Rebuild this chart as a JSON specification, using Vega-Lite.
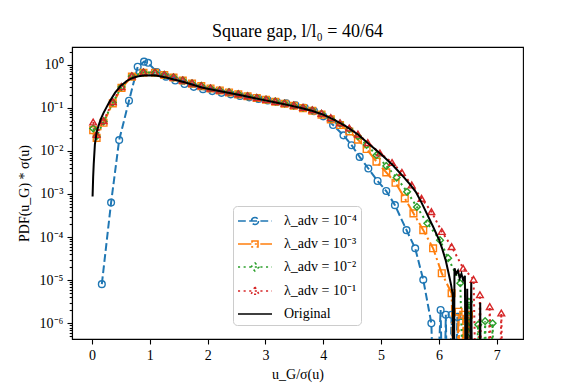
{
  "$schema": "https://vega.github.io/schema/vega-lite/v6.json",
  "width": 451,
  "height": 292,
  "autosize": "none",
  "padding": {"left": 72, "top": 47, "right": 58, "bottom": 49},
  "background": "white",
  "title": {"text": "Square gap, l/l₀ = 40/64", "font": "Liberation Serif", "fontSize": 18, "fontWeight": "normal", "color": "black", "anchor": "middle", "offset": 6},
  "config": {
    "view": {"stroke": "black", "strokeWidth": 1.1},
    "axis": {"labelFont": "Liberation Serif", "labelFontSize": 14, "labelColor": "black", "tickColor": "black", "tickWidth": 1.1, "tickSize": 5, "domainColor": "black", "domainWidth": 1.1, "titleFont": "Liberation Serif", "titleFontSize": 14, "titleFontWeight": "normal", "titleColor": "black", "grid": false}
  },
  "data": {"values": [
    {"s": "λ_adv = 10⁻⁴", "x": 0.17, "y": 8.1e-6},
    {"s": "λ_adv = 10⁻⁴", "x": 0.33, "y": 6.3e-4},
    {"s": "λ_adv = 10⁻⁴", "x": 0.47, "y": 0.0178},
    {"s": "λ_adv = 10⁻⁴", "x": 0.64, "y": 0.145},
    {"s": "λ_adv = 10⁻⁴", "x": 0.79, "y": 0.891},
    {"s": "λ_adv = 10⁻⁴", "x": 0.90, "y": 1.17},
    {"s": "λ_adv = 10⁻⁴", "x": 0.97, "y": 1.10},
    {"s": "λ_adv = 10⁻⁴", "x": 1.12, "y": 0.676},
    {"s": "λ_adv = 10⁻⁴", "x": 1.28, "y": 0.525},
    {"s": "λ_adv = 10⁻⁴", "x": 1.44, "y": 0.427},
    {"s": "λ_adv = 10⁻⁴", "x": 1.60, "y": 0.355},
    {"s": "λ_adv = 10⁻⁴", "x": 1.76, "y": 0.305},
    {"s": "λ_adv = 10⁻⁴", "x": 1.92, "y": 0.269},
    {"s": "λ_adv = 10⁻⁴", "x": 2.08, "y": 0.243},
    {"s": "λ_adv = 10⁻⁴", "x": 2.24, "y": 0.221},
    {"s": "λ_adv = 10⁻⁴", "x": 2.40, "y": 0.204},
    {"s": "λ_adv = 10⁻⁴", "x": 2.56, "y": 0.188},
    {"s": "λ_adv = 10⁻⁴", "x": 2.72, "y": 0.174},
    {"s": "λ_adv = 10⁻⁴", "x": 2.88, "y": 0.160},
    {"s": "λ_adv = 10⁻⁴", "x": 3.04, "y": 0.148},
    {"s": "λ_adv = 10⁻⁴", "x": 3.20, "y": 0.136},
    {"s": "λ_adv = 10⁻⁴", "x": 3.36, "y": 0.126},
    {"s": "λ_adv = 10⁻⁴", "x": 3.52, "y": 0.114},
    {"s": "λ_adv = 10⁻⁴", "x": 3.68, "y": 0.100},
    {"s": "λ_adv = 10⁻⁴", "x": 3.84, "y": 0.0832},
    {"s": "λ_adv = 10⁻⁴", "x": 4.00, "y": 0.0631},
    {"s": "λ_adv = 10⁻⁴", "x": 4.17, "y": 0.0398},
    {"s": "λ_adv = 10⁻⁴", "x": 4.35, "y": 0.0229},
    {"s": "λ_adv = 10⁻⁴", "x": 4.49, "y": 0.0135},
    {"s": "λ_adv = 10⁻⁴", "x": 4.63, "y": 0.00724},
    {"s": "λ_adv = 10⁻⁴", "x": 4.78, "y": 0.00389},
    {"s": "λ_adv = 10⁻⁴", "x": 4.94, "y": 0.0020},
    {"s": "λ_adv = 10⁻⁴", "x": 5.09, "y": 0.00117},
    {"s": "λ_adv = 10⁻⁴", "x": 5.24, "y": 5.5e-4},
    {"s": "λ_adv = 10⁻⁴", "x": 5.44, "y": 1.45e-4},
    {"s": "λ_adv = 10⁻⁴", "x": 5.59, "y": 5.5e-5},
    {"s": "λ_adv = 10⁻⁴", "x": 5.73, "y": 1.02e-5},
    {"s": "λ_adv = 10⁻⁴", "x": 5.87, "y": 1.0e-6},
    {"s": "λ_adv = 10⁻⁴", "x": 5.93, "y": 1e-9},
    {"s": "λ_adv = 10⁻⁴", "x": 6.03, "y": 2.04e-6},
    {"s": "λ_adv = 10⁻⁴", "x": 6.08, "y": 1e-9},
    {"s": "λ_adv = 10⁻⁴", "x": 6.12, "y": 1.58e-6},
    {"s": "λ_adv = 10⁻⁴", "x": 6.16, "y": 1e-9},
    {"s": "λ_adv = 10⁻⁴", "x": 6.22, "y": 1.58e-6},
    {"s": "λ_adv = 10⁻⁴", "x": 6.26, "y": 1e-9},
    {"s": "λ_adv = 10⁻⁴", "x": 6.32, "y": 1.41e-6},
    {"s": "λ_adv = 10⁻⁴", "x": 6.36, "y": 1e-9},

    {"s": "λ_adv = 10⁻³", "x": 0.02, "y": 0.0302},
    {"s": "λ_adv = 10⁻³", "x": 0.08, "y": 0.020},
    {"s": "λ_adv = 10⁻³", "x": 0.20, "y": 0.0447},
    {"s": "λ_adv = 10⁻³", "x": 0.36, "y": 0.126},
    {"s": "λ_adv = 10⁻³", "x": 0.51, "y": 0.288},
    {"s": "λ_adv = 10⁻³", "x": 0.69, "y": 0.525},
    {"s": "λ_adv = 10⁻³", "x": 0.89, "y": 0.646},
    {"s": "λ_adv = 10⁻³", "x": 1.09, "y": 0.646},
    {"s": "λ_adv = 10⁻³", "x": 1.25, "y": 0.575},
    {"s": "λ_adv = 10⁻³", "x": 1.41, "y": 0.501},
    {"s": "λ_adv = 10⁻³", "x": 1.57, "y": 0.427},
    {"s": "λ_adv = 10⁻³", "x": 1.73, "y": 0.363},
    {"s": "λ_adv = 10⁻³", "x": 1.89, "y": 0.316},
    {"s": "λ_adv = 10⁻³", "x": 2.05, "y": 0.279},
    {"s": "λ_adv = 10⁻³", "x": 2.21, "y": 0.251},
    {"s": "λ_adv = 10⁻³", "x": 2.37, "y": 0.226},
    {"s": "λ_adv = 10⁻³", "x": 2.53, "y": 0.204},
    {"s": "λ_adv = 10⁻³", "x": 2.69, "y": 0.184},
    {"s": "λ_adv = 10⁻³", "x": 2.85, "y": 0.168},
    {"s": "λ_adv = 10⁻³", "x": 3.01, "y": 0.153},
    {"s": "λ_adv = 10⁻³", "x": 3.17, "y": 0.138},
    {"s": "λ_adv = 10⁻³", "x": 3.33, "y": 0.124},
    {"s": "λ_adv = 10⁻³", "x": 3.49, "y": 0.111},
    {"s": "λ_adv = 10⁻³", "x": 3.65, "y": 0.0977},
    {"s": "λ_adv = 10⁻³", "x": 3.81, "y": 0.0851},
    {"s": "λ_adv = 10⁻³", "x": 3.97, "y": 0.0692},
    {"s": "λ_adv = 10⁻³", "x": 4.13, "y": 0.0537},
    {"s": "λ_adv = 10⁻³", "x": 4.29, "y": 0.0398},
    {"s": "λ_adv = 10⁻³", "x": 4.45, "y": 0.0282},
    {"s": "λ_adv = 10⁻³", "x": 4.60, "y": 0.0182},
    {"s": "λ_adv = 10⁻³", "x": 4.75, "y": 0.0110},
    {"s": "λ_adv = 10⁻³", "x": 4.92, "y": 0.00562},
    {"s": "λ_adv = 10⁻³", "x": 5.09, "y": 0.00316},
    {"s": "λ_adv = 10⁻³", "x": 5.25, "y": 0.00182},
    {"s": "λ_adv = 10⁻³", "x": 5.41, "y": 7.9e-4},
    {"s": "λ_adv = 10⁻³", "x": 5.56, "y": 3.55e-4},
    {"s": "λ_adv = 10⁻³", "x": 5.73, "y": 1.45e-4},
    {"s": "λ_adv = 10⁻³", "x": 5.90, "y": 5.5e-5},
    {"s": "λ_adv = 10⁻³", "x": 6.05, "y": 1.45e-5},
    {"s": "λ_adv = 10⁻³", "x": 6.22, "y": 5.0e-6},
    {"s": "λ_adv = 10⁻³", "x": 6.28, "y": 1e-9},
    {"s": "λ_adv = 10⁻³", "x": 6.34, "y": 1.86e-6},
    {"s": "λ_adv = 10⁻³", "x": 6.38, "y": 1e-9},
    {"s": "λ_adv = 10⁻³", "x": 6.42, "y": 1.58e-6},
    {"s": "λ_adv = 10⁻³", "x": 6.46, "y": 1e-9},
    {"s": "λ_adv = 10⁻³", "x": 6.52, "y": 1.58e-6},
    {"s": "λ_adv = 10⁻³", "x": 6.56, "y": 1e-9},

    {"s": "λ_adv = 10⁻²", "x": 0.02, "y": 0.0331},
    {"s": "λ_adv = 10⁻²", "x": 0.08, "y": 0.0219},
    {"s": "λ_adv = 10⁻²", "x": 0.20, "y": 0.0479},
    {"s": "λ_adv = 10⁻²", "x": 0.36, "y": 0.132},
    {"s": "λ_adv = 10⁻²", "x": 0.51, "y": 0.302},
    {"s": "λ_adv = 10⁻²", "x": 0.69, "y": 0.537},
    {"s": "λ_adv = 10⁻²", "x": 0.89, "y": 0.661},
    {"s": "λ_adv = 10⁻²", "x": 1.09, "y": 0.653},
    {"s": "λ_adv = 10⁻²", "x": 1.25, "y": 0.582},
    {"s": "λ_adv = 10⁻²", "x": 1.41, "y": 0.507},
    {"s": "λ_adv = 10⁻²", "x": 1.57, "y": 0.432},
    {"s": "λ_adv = 10⁻²", "x": 1.73, "y": 0.367},
    {"s": "λ_adv = 10⁻²", "x": 1.89, "y": 0.320},
    {"s": "λ_adv = 10⁻²", "x": 2.05, "y": 0.282},
    {"s": "λ_adv = 10⁻²", "x": 2.21, "y": 0.254},
    {"s": "λ_adv = 10⁻²", "x": 2.37, "y": 0.229},
    {"s": "λ_adv = 10⁻²", "x": 2.53, "y": 0.207},
    {"s": "λ_adv = 10⁻²", "x": 2.69, "y": 0.186},
    {"s": "λ_adv = 10⁻²", "x": 2.85, "y": 0.170},
    {"s": "λ_adv = 10⁻²", "x": 3.01, "y": 0.155},
    {"s": "λ_adv = 10⁻²", "x": 3.17, "y": 0.140},
    {"s": "λ_adv = 10⁻²", "x": 3.33, "y": 0.126},
    {"s": "λ_adv = 10⁻²", "x": 3.49, "y": 0.112},
    {"s": "λ_adv = 10⁻²", "x": 3.65, "y": 0.100},
    {"s": "λ_adv = 10⁻²", "x": 3.81, "y": 0.0871},
    {"s": "λ_adv = 10⁻²", "x": 3.97, "y": 0.0724},
    {"s": "λ_adv = 10⁻²", "x": 4.13, "y": 0.0562},
    {"s": "λ_adv = 10⁻²", "x": 4.29, "y": 0.0427},
    {"s": "λ_adv = 10⁻²", "x": 4.45, "y": 0.0316},
    {"s": "λ_adv = 10⁻²", "x": 4.60, "y": 0.0219},
    {"s": "λ_adv = 10⁻²", "x": 4.75, "y": 0.0138},
    {"s": "λ_adv = 10⁻²", "x": 4.92, "y": 0.00794},
    {"s": "λ_adv = 10⁻²", "x": 5.09, "y": 0.00447},
    {"s": "λ_adv = 10⁻²", "x": 5.27, "y": 0.0024},
    {"s": "λ_adv = 10⁻²", "x": 5.45, "y": 0.00112},
    {"s": "λ_adv = 10⁻²", "x": 5.62, "y": 5.0e-4},
    {"s": "λ_adv = 10⁻²", "x": 5.80, "y": 2.09e-4},
    {"s": "λ_adv = 10⁻²", "x": 6.02, "y": 8.5e-5},
    {"s": "λ_adv = 10⁻²", "x": 6.16, "y": 3.24e-5},
    {"s": "λ_adv = 10⁻²", "x": 6.37, "y": 8.5e-6},
    {"s": "λ_adv = 10⁻²", "x": 6.45, "y": 1e-9},
    {"s": "λ_adv = 10⁻²", "x": 6.52, "y": 3.16e-6},
    {"s": "λ_adv = 10⁻²", "x": 6.58, "y": 1e-9},
    {"s": "λ_adv = 10⁻²", "x": 6.68, "y": 9.3e-7},
    {"s": "λ_adv = 10⁻²", "x": 6.74, "y": 1e-9},
    {"s": "λ_adv = 10⁻²", "x": 6.80, "y": 1.12e-6},
    {"s": "λ_adv = 10⁻²", "x": 6.85, "y": 1e-9},
    {"s": "λ_adv = 10⁻²", "x": 6.93, "y": 1.0e-6},
    {"s": "λ_adv = 10⁻²", "x": 6.97, "y": 1e-9},

    {"s": "λ_adv = 10⁻¹", "x": 0.02, "y": 0.0468},
    {"s": "λ_adv = 10⁻¹", "x": 0.08, "y": 0.024},
    {"s": "λ_adv = 10⁻¹", "x": 0.20, "y": 0.0501},
    {"s": "λ_adv = 10⁻¹", "x": 0.36, "y": 0.138},
    {"s": "λ_adv = 10⁻¹", "x": 0.51, "y": 0.309},
    {"s": "λ_adv = 10⁻¹", "x": 0.69, "y": 0.550},
    {"s": "λ_adv = 10⁻¹", "x": 0.89, "y": 0.676},
    {"s": "λ_adv = 10⁻¹", "x": 1.09, "y": 0.661},
    {"s": "λ_adv = 10⁻¹", "x": 1.25, "y": 0.589},
    {"s": "λ_adv = 10⁻¹", "x": 1.41, "y": 0.513},
    {"s": "λ_adv = 10⁻¹", "x": 1.57, "y": 0.437},
    {"s": "λ_adv = 10⁻¹", "x": 1.73, "y": 0.372},
    {"s": "λ_adv = 10⁻¹", "x": 1.89, "y": 0.324},
    {"s": "λ_adv = 10⁻¹", "x": 2.05, "y": 0.285},
    {"s": "λ_adv = 10⁻¹", "x": 2.21, "y": 0.257},
    {"s": "λ_adv = 10⁻¹", "x": 2.37, "y": 0.232},
    {"s": "λ_adv = 10⁻¹", "x": 2.53, "y": 0.209},
    {"s": "λ_adv = 10⁻¹", "x": 2.69, "y": 0.188},
    {"s": "λ_adv = 10⁻¹", "x": 2.85, "y": 0.172},
    {"s": "λ_adv = 10⁻¹", "x": 3.01, "y": 0.157},
    {"s": "λ_adv = 10⁻¹", "x": 3.17, "y": 0.141},
    {"s": "λ_adv = 10⁻¹", "x": 3.33, "y": 0.127},
    {"s": "λ_adv = 10⁻¹", "x": 3.49, "y": 0.115},
    {"s": "λ_adv = 10⁻¹", "x": 3.65, "y": 0.102},
    {"s": "λ_adv = 10⁻¹", "x": 3.81, "y": 0.0891},
    {"s": "λ_adv = 10⁻¹", "x": 3.97, "y": 0.0741},
    {"s": "λ_adv = 10⁻¹", "x": 4.13, "y": 0.0589},
    {"s": "λ_adv = 10⁻¹", "x": 4.29, "y": 0.0447},
    {"s": "λ_adv = 10⁻¹", "x": 4.45, "y": 0.0339},
    {"s": "λ_adv = 10⁻¹", "x": 4.60, "y": 0.0245},
    {"s": "λ_adv = 10⁻¹", "x": 4.77, "y": 0.0155},
    {"s": "λ_adv = 10⁻¹", "x": 4.98, "y": 0.00891},
    {"s": "λ_adv = 10⁻¹", "x": 5.19, "y": 0.00537},
    {"s": "λ_adv = 10⁻¹", "x": 5.36, "y": 0.00316},
    {"s": "λ_adv = 10⁻¹", "x": 5.53, "y": 0.00162},
    {"s": "λ_adv = 10⁻¹", "x": 5.70, "y": 7.9e-4},
    {"s": "λ_adv = 10⁻¹", "x": 5.87, "y": 3.89e-4},
    {"s": "λ_adv = 10⁻¹", "x": 6.05, "y": 1.35e-4},
    {"s": "λ_adv = 10⁻¹", "x": 6.22, "y": 6.0e-5},
    {"s": "λ_adv = 10⁻¹", "x": 6.42, "y": 1.9e-5},
    {"s": "λ_adv = 10⁻¹", "x": 6.60, "y": 1.05e-5},
    {"s": "λ_adv = 10⁻¹", "x": 6.66, "y": 1e-9},
    {"s": "λ_adv = 10⁻¹", "x": 6.71, "y": 4.6e-6},
    {"s": "λ_adv = 10⁻¹", "x": 6.76, "y": 1e-9},
    {"s": "λ_adv = 10⁻¹", "x": 6.83, "y": 1e-9},
    {"s": "λ_adv = 10⁻¹", "x": 6.88, "y": 2.45e-6},
    {"s": "λ_adv = 10⁻¹", "x": 6.93, "y": 1e-9},
    {"s": "λ_adv = 10⁻¹", "x": 7.03, "y": 1e-9},
    {"s": "λ_adv = 10⁻¹", "x": 7.08, "y": 1.74e-6},
    {"s": "λ_adv = 10⁻¹", "x": 7.12, "y": 1e-9},

    {"s": "Original", "x": 0.01, "y": 8.7e-4},
    {"s": "Original", "x": 0.02, "y": 0.0025},
    {"s": "Original", "x": 0.03, "y": 0.005},
    {"s": "Original", "x": 0.05, "y": 0.0141},
    {"s": "Original", "x": 0.08, "y": 0.0269},
    {"s": "Original", "x": 0.11, "y": 0.0372},
    {"s": "Original", "x": 0.15, "y": 0.0537},
    {"s": "Original", "x": 0.20, "y": 0.0759},
    {"s": "Original", "x": 0.25, "y": 0.102},
    {"s": "Original", "x": 0.30, "y": 0.135},
    {"s": "Original", "x": 0.40, "y": 0.224},
    {"s": "Original", "x": 0.50, "y": 0.324},
    {"s": "Original", "x": 0.60, "y": 0.417},
    {"s": "Original", "x": 0.70, "y": 0.490},
    {"s": "Original", "x": 0.80, "y": 0.537},
    {"s": "Original", "x": 0.90, "y": 0.562},
    {"s": "Original", "x": 1.00, "y": 0.569},
    {"s": "Original", "x": 1.10, "y": 0.562},
    {"s": "Original", "x": 1.20, "y": 0.531},
    {"s": "Original", "x": 1.30, "y": 0.495},
    {"s": "Original", "x": 1.40, "y": 0.457},
    {"s": "Original", "x": 1.50, "y": 0.422},
    {"s": "Original", "x": 1.60, "y": 0.389},
    {"s": "Original", "x": 1.70, "y": 0.355},
    {"s": "Original", "x": 1.80, "y": 0.324},
    {"s": "Original", "x": 1.90, "y": 0.295},
    {"s": "Original", "x": 2.00, "y": 0.275},
    {"s": "Original", "x": 2.20, "y": 0.243},
    {"s": "Original", "x": 2.40, "y": 0.216},
    {"s": "Original", "x": 2.60, "y": 0.191},
    {"s": "Original", "x": 2.80, "y": 0.168},
    {"s": "Original", "x": 3.00, "y": 0.148},
    {"s": "Original", "x": 3.20, "y": 0.130},
    {"s": "Original", "x": 3.40, "y": 0.115},
    {"s": "Original", "x": 3.60, "y": 0.100},
    {"s": "Original", "x": 3.80, "y": 0.0851},
    {"s": "Original", "x": 4.00, "y": 0.0692},
    {"s": "Original", "x": 4.20, "y": 0.0513},
    {"s": "Original", "x": 4.40, "y": 0.0363},
    {"s": "Original", "x": 4.60, "y": 0.0240},
    {"s": "Original", "x": 4.80, "y": 0.0141},
    {"s": "Original", "x": 5.00, "y": 0.00832},
    {"s": "Original", "x": 5.20, "y": 0.00468},
    {"s": "Original", "x": 5.40, "y": 0.0024},
    {"s": "Original", "x": 5.50, "y": 0.00166},
    {"s": "Original", "x": 5.60, "y": 0.00112},
    {"s": "Original", "x": 5.70, "y": 6.3e-4},
    {"s": "Original", "x": 5.80, "y": 3.31e-4},
    {"s": "Original", "x": 5.90, "y": 1.74e-4},
    {"s": "Original", "x": 6.00, "y": 8.9e-5},
    {"s": "Original", "x": 6.06, "y": 5.25e-5},
    {"s": "Original", "x": 6.12, "y": 2.82e-5},
    {"s": "Original", "x": 6.17, "y": 1.41e-5},
    {"s": "Original", "x": 6.21, "y": 7.9e-6},
    {"s": "Original", "x": 6.24, "y": 4.5e-6},
    {"s": "Original", "x": 6.255, "y": 1e-9},
    {"s": "Original", "x": 6.27, "y": 1.9e-5},
    {"s": "Original", "x": 6.30, "y": 1.41e-5},
    {"s": "Original", "x": 6.33, "y": 1.66e-5},
    {"s": "Original", "x": 6.36, "y": 1.12e-5},
    {"s": "Original", "x": 6.39, "y": 1.41e-5},
    {"s": "Original", "x": 6.42, "y": 1.0e-5},
    {"s": "Original", "x": 6.45, "y": 1.26e-5},
    {"s": "Original", "x": 6.47, "y": 1e-9},
    {"s": "Original", "x": 6.49, "y": 6.3e-6},
    {"s": "Original", "x": 6.51, "y": 1e-9},
    {"s": "Original", "x": 6.56, "y": 8.9e-6},
    {"s": "Original", "x": 6.58, "y": 1e-9},
    {"s": "Original", "x": 6.70, "y": 1e-9},
    {"s": "Original", "x": 6.715, "y": 3.0e-6},
    {"s": "Original", "x": 6.73, "y": 1e-9}
  ]},
  "layer": [
    {
      "transform": [{"filter": "datum.s !== 'Original'"}],
      "mark": {"type": "line", "clip": true, "strokeWidth": 2},
      "encoding": {
        "x": {"field": "x", "type": "quantitative", "scale": {"domain": [-0.346, 7.455], "nice": false, "zero": false},
              "axis": {"values": [0, 1, 2, 3, 4, 5, 6, 7], "format": "d", "title": "u_G/σ(u)", "titlePadding": 5, "labelPadding": 4, "labelFlush": false}},
        "y": {"field": "y", "type": "quantitative", "scale": {"type": "log", "domain": [4.33e-7, 2.56], "nice": false},
              "axis": {"orient": "left", "values": [1e-6, 1e-5, 1e-4, 1e-3, 0.01, 0.1, 1],
                       "labelExpr": "datum.value >= 0.999 ? '10⁰' : '10⁻' + ['⁰','¹','²','³','⁴','⁵','⁶','⁷'][round(-log(datum.value)/LN10)]",
                       "title": "PDF(u_G) * σ(u)", "titlePadding": 8, "labelPadding": 4}},
        "color": {"field": "s", "type": "nominal",
                  "scale": {"domain": ["λ_adv = 10⁻⁴", "λ_adv = 10⁻³", "λ_adv = 10⁻²", "λ_adv = 10⁻¹", "Original"],
                            "range": ["#1f77b4", "#ff7f0e", "#2ca02c", "#d62728", "#000000"]},
                  "legend": {"orient": "none", "legendX": 161, "legendY": 159, "title": null, "padding": 4,
                             "fillColor": "rgba(255,255,255,0.8)", "strokeColor": "#cccccc", "cornerRadius": 4,
                             "labelFont": "Liberation Serif", "labelFontSize": 14, "labelColor": "black", "labelLimit": 300,
                             "symbolSize": 400, "symbolStrokeWidth": 1.6, "symbolFillColor": "transparent",
                             "rowPadding": 5, "symbolOffset": 7, "labelOffset": 18,
                             "symbolType": {"expr": "['M-1.7,0H-0.92M-0.58,0H0.2M0.54,0H1.32M1.66,0H1.7M0.35,0A0.35,0.35,0,1,1,-0.35,0A0.35,0.35,0,1,1,0.35,0', 'M-1.7,0H-0.36M-0.02,0H0.19M0.53,0H1.7M-0.3,-0.3H0.3V0.3H-0.3Z', 'M-1.7,0H-1.49M-1.14,0H-0.93M-0.58,0H-0.37M-0.02,0H0.19M0.54,0H0.75M1.1,0H1.31M1.66,0H1.7M0,-0.4L0.4,0L0,0.4L-0.4,0Z', 'M-1.7,0H-1.49M-1.14,0H-0.93M-0.58,0H-0.37M-0.02,0H0.19M0.54,0H0.75M1.1,0H1.31M1.66,0H1.7M0,-0.4L0.4,0.33L-0.4,0.33Z', 'M-1.7,0H1.7'][datum.index]"}}},
        "strokeDash": {"field": "s", "type": "nominal",
                       "scale": {"domain": ["λ_adv = 10⁻⁴", "λ_adv = 10⁻³", "λ_adv = 10⁻²", "λ_adv = 10⁻¹", "Original"],
                                 "range": [[7.8, 3.4], [13.4, 3.4, 2.1, 3.4], [2.1, 3.5], [2.1, 3.5], [1, 0]]},
                       "legend": null}
      }
    },
    {
      "transform": [{"filter": "datum.s !== 'Original'"}],
      "mark": {"type": "point", "clip": true, "filled": false, "strokeWidth": 1.4, "size": 45, "opacity": 1},
      "encoding": {
        "x": {"field": "x", "type": "quantitative"},
        "y": {"field": "y", "type": "quantitative",
              "axis": {"orient": "left", "labels": false, "domain": false, "title": null, "tickSize": 2.8,
                       "values": [5e-7, 6e-7, 7e-7, 8e-7, 9e-7, 2e-6, 3e-6, 4e-6, 5e-6, 6e-6, 7e-6, 8e-6, 9e-6, 2e-5, 3e-5, 4e-5, 5e-5, 6e-5, 7e-5, 8e-5, 9e-5, 2e-4, 3e-4, 4e-4, 5e-4, 6e-4, 7e-4, 8e-4, 9e-4, 0.002, 0.003, 0.004, 0.005, 0.006, 0.007, 0.008, 0.009, 0.02, 0.03, 0.04, 0.05, 0.06, 0.07, 0.08, 0.09, 0.2, 0.3, 0.4, 0.5, 0.6, 0.7, 0.8, 0.9, 2]}},
        "color": {"field": "s", "type": "nominal", "legend": null},
        "shape": {"field": "s", "type": "nominal",
                  "scale": {"domain": ["λ_adv = 10⁻⁴", "λ_adv = 10⁻³", "λ_adv = 10⁻²", "λ_adv = 10⁻¹"],
                            "range": ["circle", "square", "diamond", "triangle-up"]},
                  "legend": null}
      }
    },
    {
      "transform": [{"filter": "datum.s === 'Original'"}],
      "mark": {"type": "line", "clip": true, "color": "black", "strokeWidth": 2},
      "encoding": {
        "x": {"field": "x", "type": "quantitative"},
        "y": {"field": "y", "type": "quantitative", "axis": null}
      }
    }
  ],
  "resolve": {"axis": {"y": "independent"}}
}
